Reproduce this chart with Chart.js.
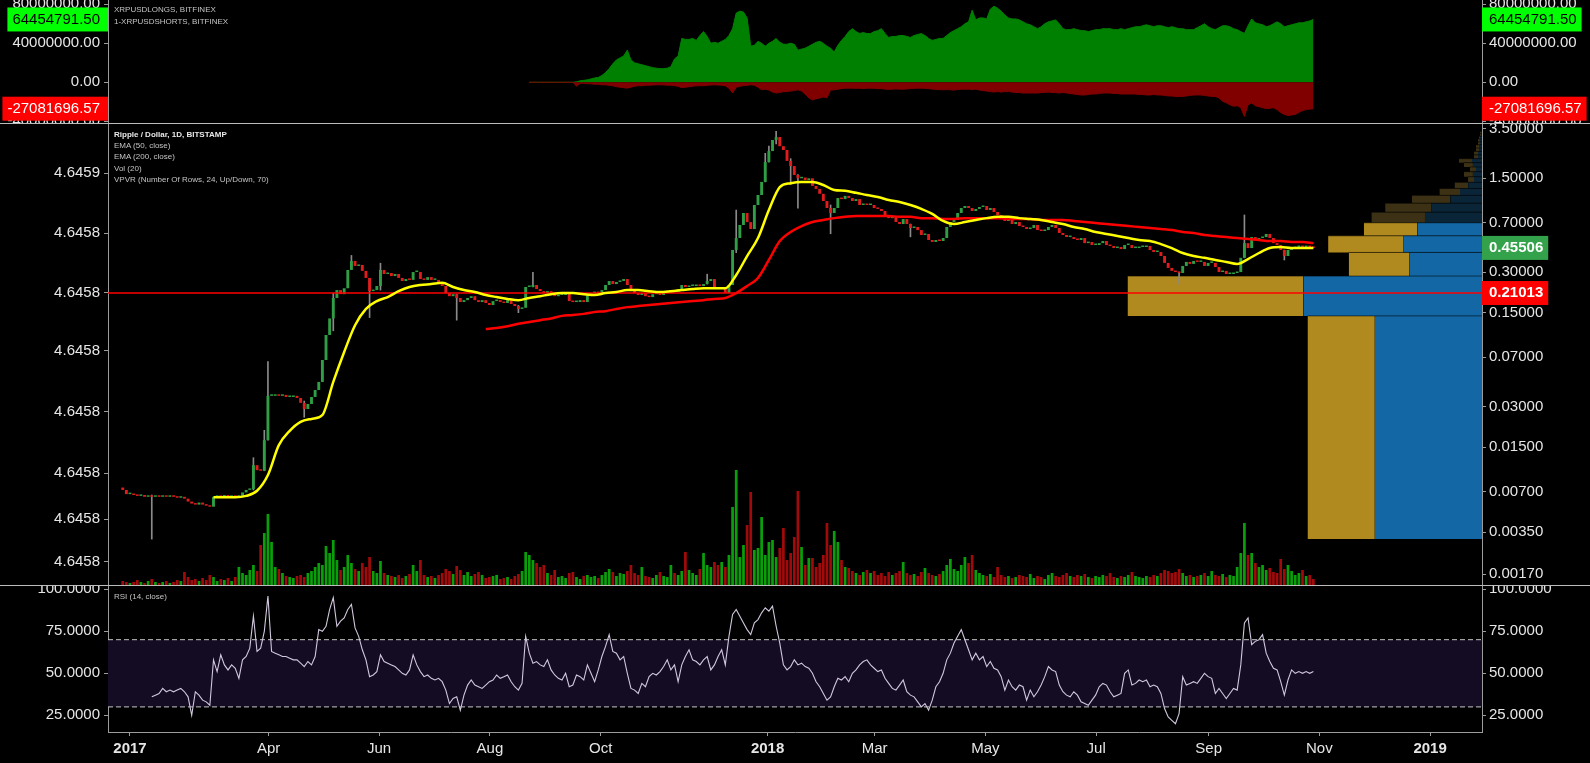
<!DOCTYPE html>
<html><head><meta charset="utf-8">
<script src="https://cdn.jsdelivr.net/npm/chart.js@4.4.1/dist/chart.umd.min.js"></script>
<style>
html,body{margin:0;padding:0;background:#000;width:1590px;height:763px;overflow:hidden;}
canvas{position:absolute;left:0;}
#cTop{top:0}
#cMain{top:124px}
#cRsi{top:586px}
.sep{position:absolute;left:0;width:1590px;height:1px;background:#bcbcbc;}
.lg{position:absolute;left:114px;font:8px "Liberation Sans",Arial,sans-serif;color:#c4c4c4;white-space:nowrap;line-height:11px;}
.lg b{color:#e8e8e8;}
</style></head><body>
<canvas id="cTop" width="1590" height="123"></canvas>
<canvas id="cMain" width="1590" height="461"></canvas>
<canvas id="cRsi" width="1590" height="177"></canvas>
<div class="sep" style="top:123px"></div>
<div class="sep" style="top:585px"></div>
<div class="lg" style="top:4px">XRPUSDLONGS, BITFINEX</div>
<div class="lg" style="top:16px">1-XRPUSDSHORTS, BITFINEX</div>
<div class="lg" style="top:129px"><b>Ripple / Dollar, 1D, BITSTAMP</b></div>
<div class="lg" style="top:140px">EMA (50, close)</div>
<div class="lg" style="top:151px">EMA (200, close)</div>
<div class="lg" style="top:163px">Vol (20)</div>
<div class="lg" style="top:174px">VPVR (Number Of Rows, 24, Up/Down, 70)</div>
<div class="lg" style="top:591px">RSI (14, close)</div>
<script>
// ---------------- DATA ----------------
// x positions are bar indexes (one bar = one trading day); 0 = first bar of 2017
const firstBar = -4, barStep = 2;
const closes = [
0.0072,0.0067,0.0067,0.0066,0.0065,0.0066,0.0064,0.0065,0.0064,0.0065,
0.0064,0.0065,0.0064,0.0065,0.0064,0.0063,0.0064,0.0062,0.0059,0.0057,
0.0056,0.0058,0.0056,0.0055,0.0054,0.0064,0.0065,0.0064,0.0066,0.0064,
0.0065,0.0064,0.0065,0.0069,0.0072,0.0073,0.0110,0.0101,0.0100,0.0169,
0.0361,0.0361,0.0367,0.0361,0.0367,0.0354,0.0354,0.0361,0.0348,0.0320,
0.0288,0.0314,0.0354,0.0399,0.0458,0.0667,0.1024,0.136,0.193,0.221,
0.206,0.228,0.312,0.364,0.334,0.340,0.307,0.272,0.217,0.221,
0.237,0.312,0.291,0.296,0.281,0.291,0.272,0.258,0.267,0.263,
0.301,0.301,0.267,0.263,0.276,0.263,0.263,0.245,0.237,0.210,
0.199,0.206,0.193,0.180,0.186,0.193,0.199,0.186,0.180,0.186,
0.177,0.171,0.183,0.186,0.180,0.177,0.186,0.174,0.168,0.160,
0.163,0.233,0.233,0.241,0.225,0.217,0.210,0.217,0.206,0.199,
0.203,0.203,0.210,0.183,0.180,0.180,0.186,0.180,0.203,0.210,
0.214,0.210,0.221,0.241,0.258,0.245,0.254,0.258,0.267,0.241,
0.221,0.210,0.203,0.210,0.199,0.196,0.206,0.206,0.203,0.210,
0.214,0.221,0.214,0.225,0.241,0.233,0.237,0.237,0.241,0.237,
0.245,0.258,0.267,0.233,0.225,0.233,0.210,0.241,0.439,0.539,
0.674,0.828,0.708,0.629,0.949,1.127,1.41,1.98,2.39,2.89,
3.04,2.60,2.435,2.02,1.85,1.587,1.50,1.52,1.457,1.50,
1.315,1.25,1.15,1.016,0.902,0.828,0.902,1.07,1.05,1.11,
1.07,1.016,1.05,0.949,0.965,0.949,0.949,0.902,0.887,0.856,
0.800,0.758,0.787,0.709,0.685,0.746,0.685,0.640,0.651,0.618,
0.568,0.578,0.521,0.504,0.521,0.512,0.539,0.651,0.709,0.734,
0.828,0.902,0.933,0.902,0.856,0.887,0.917,0.933,0.871,0.902,
0.842,0.800,0.758,0.722,0.746,0.685,0.709,0.662,0.651,0.629,
0.640,0.674,0.618,0.608,0.618,0.651,0.674,0.640,0.588,0.568,
0.548,0.548,0.530,0.521,0.539,0.494,0.504,0.478,0.478,0.494,
0.512,0.478,0.470,0.454,0.462,0.446,0.478,0.478,0.454,0.454,
0.462,0.462,0.470,0.439,0.424,0.424,0.396,0.352,0.323,0.307,
0.301,0.296,0.334,0.358,0.346,0.364,0.358,0.358,0.334,0.352,
0.352,0.328,0.301,0.307,0.291,0.291,0.296,0.301,0.384,0.494,
0.454,0.548,0.521,0.539,0.548,0.578,0.539,0.494,0.478,0.439,
0.396,0.439,0.454,0.462,0.470,0.462,0.470,0.462,0.45506];
const firstOpen = 0.0075;
// visible wicks: [candle index, low, high]
const wicks = [[8,0.0031,0.0066],[36,0.0072,0.0125],[39,0.0100,0.020],[40,0.0169,0.065],[50,0.025,0.033],
[58,0.110,0.210],[63,0.330,0.400],[68,0.138,0.270],[71,0.221,0.350],[92,0.132,0.206],[109,0.150,0.170],
[113,0.233,0.300],[161,0.245,0.290],[169,0.420,0.870],[177,1.41,2.30],[178,1.98,2.60],[180,2.70,3.35],
[184,1.35,2.10],[186,0.90,1.60],[195,0.58,0.95],[217,0.55,0.685],[291,0.245,0.301],[309,0.384,0.80],[320,0.37,0.439]];
const volumes = [
4,3,2,3,5,3,2,4,6,3,2,3,4,2,3,5,4,
13,8,5,6,4,7,5,10,
8,4,6,5,7,4,
8,18,12,10,15,20,14,40,52,71,
43,18,16,12,9,8,7,9,10,8,
12,14,18,22,20,39,32,45,25,15,
18,30,22,16,14,22,18,28,14,12,
24,12,10,9,8,10,7,9,11,20,
14,25,10,8,9,7,10,12,16,14,
11,19,15,10,13,9,11,13,10,7,
8,9,10,6,7,8,6,9,11,14,
33,30,25,22,18,20,12,10,15,8,
9,7,12,13,8,6,9,10,8,9,
7,10,13,16,13,9,12,11,14,20,
12,10,18,9,8,7,10,13,9,8,
20,12,10,14,33,15,12,10,16,32,
20,18,23,20,23,18,30,78,115,28,
40,60,93,35,37,68,30,43,45,28,
37,57,25,32,48,94,38,20,27,27,
18,22,30,62,40,54,43,25,18,17,
14,12,10,13,15,12,14,10,12,9,
13,10,12,14,23,12,10,11,9,13,
17,12,10,9,11,14,20,26,16,14,
20,28,22,30,15,12,10,9,11,8,
18,10,8,9,7,8,10,9,8,11,
7,9,8,6,10,12,9,8,10,12,
9,8,10,9,11,8,7,9,8,10,
9,12,8,7,9,8,10,13,9,8,
7,9,8,10,9,12,15,14,12,13,
16,12,9,10,8,9,10,12,9,14,
10,9,11,8,10,9,18,32,62,30,
32,22,18,20,15,17,13,12,26,16,
20,14,10,12,15,9,10,6];
const ema50FirstBar = 46, emaStep = 6;
const ema50 = [
0.00635,0.00635,0.00635,0.0065,0.0071,0.0093,0.0155,0.0198,0.0231,0.0243,
0.0260,0.0458,0.0765,0.121,0.160,0.183,0.196,0.217,0.233,0.241,
0.245,0.250,0.233,0.221,0.214,0.203,0.196,0.190,0.186,0.193,
0.199,0.206,0.210,0.210,0.206,0.203,0.210,0.214,0.221,0.221,
0.217,0.214,0.217,0.221,0.225,0.228,0.228,0.228,0.286,0.396,
0.539,0.871,1.29,1.38,1.41,1.41,1.337,1.227,1.21,1.17,
1.127,1.09,1.034,0.998,0.949,0.887,0.815,0.722,0.685,0.709,
0.734,0.758,0.775,0.775,0.758,0.746,0.734,0.709,0.685,0.651,
0.629,0.598,0.578,0.558,0.539,0.521,0.512,0.486,0.454,0.417,
0.396,0.384,0.370,0.358,0.346,0.376,0.417,0.454,0.462,0.454,
0.454,0.454];
const ema200FirstBar = 196;
const ema200 = [
0.1134,0.1154,0.119,0.124,0.128,0.132,0.136,0.142,0.144,0.147,
0.152,0.154,0.160,0.165,0.168,0.171,0.174,0.177,0.180,0.183,
0.186,0.190,0.193,0.210,0.237,0.272,0.370,0.512,0.598,0.662,
0.709,0.734,0.758,0.775,0.787,0.787,0.787,0.787,0.775,0.775,
0.758,0.758,0.746,0.746,0.758,0.758,0.758,0.758,0.746,0.746,
0.746,0.734,0.734,0.734,0.722,0.709,0.697,0.685,0.674,0.662,
0.651,0.640,0.629,0.618,0.598,0.588,0.568,0.558,0.548,0.539,
0.530,0.521,0.512,0.512,0.504,0.504,0.494];
const hLineLevel = 0.21013;
// VPVR: 24 rows (price bounds), up / down volume, value-area flag
const vpBounds = [0.0031,0.142,0.281,0.421,0.56,0.70,0.84,0.98,1.12,1.26,1.40,1.54,1.68,1.82,1.96,2.10,2.24,2.38,2.52,2.66,2.80,2.94,3.08,3.22,3.35];
const vpDown = [7.8,13.0,5.3,5.7,4.7,4.15,3.7,2.3,1.6,1.0,0.58,0.66,0.44,0.66,0.73,0.29,0.29,0.22,0.22,0.15,0.15,0.15,0.07,0.07];
const vpUp   = [4.9,12.8,4.4,5.5,3.9,3.9,3.35,2.8,1.5,1.0,0.44,0.66,0.44,0.66,0.95,0.29,0.29,0.22,0.22,0.15,0.15,0.07,0.07,0.07];
const vpInValueArea = [1,1,1,1,1,0,0,0,0,0,0,0,0,0,0,0,0,0,0,0,0,0,0,0];
// Longs / shorts (millions), from bar 220
const lsFirstBar = 220;
const longs = [
0,0,0,0,0,0,0,0,0,0,
0,0,0,0.5,1.5,2,2.5,3.5,4.5,5,
7,10,14,19,23,25,27,33,23,20,
19,18,17,16,15,14.5,14,14,14.5,16,
24,27,45,44,44,45,43,48,52,47,
40,41,40,42,44,48,55,71,73,72,
66,37,38,42,40,37,40,42,45,41,
39,39,40,39,33,34,35,37,39,41,
42,40,37,35,31,38,43,47,52,55,
52,50,51,50,50,52,53,55,50,46,
47,47,48,48,47,46,48,49,50,48,
45,43,44,45,45,48,51,53,55,57,
60,62,74,64,66,66,65,75,78,76,
73,69,66,65,65,64,62,60,59,57,
55,57,60,62,63,64,60,55,54,54,
55,54,53,53,52,53,54,54,55,55,
55,54,54,55,54,55,56,57,57,58,
59,58,57,58,58,57,56,57,56,55,
55,54,54,54,56,58,60,57,55,54,
56,58,58,57,55,54,52,50,58,65,
61,60,59,57,58,60,62,60,57,58,
59,60,61,61,62,63,64.4547915];
const shorts = [
0,0,0,0,0,0,0,0,0,0,
0,0,0,-4,-1,-1,-1.5,-1.5,-2,-2,
-2.5,-2.6,-3,-3.5,-4.5,-5,-5.5,-6,-5,-4,
-3.5,-3.5,-3,-3,-2.8,-2.6,-2.6,-2.6,-3,-3,
-3.5,-4,-5.5,-5,-4.5,-4,-3.5,-3.5,-3.5,-3,
-2.8,-2.6,-2.8,-3,-3.5,-6,-11,-5,-4,-3.5,
-3,-2.6,-3,-5,-7.7,-7,-8,-10,-11,-10.5,
-9.5,-9.5,-9,-8.5,-7.7,-9,-12,-16,-18,-17,
-16,-15,-16,-8,-7.7,-7,-6.5,-6,-6,-6,
-6.2,-6,-6.5,-6,-6,-6.2,-6.5,-6.5,-7,-7.2,
-7,-6.8,-7,-7,-6.8,-6.5,-6.2,-6,-6,-6.2,
-6.5,-7,-7.2,-7.5,-7.7,-7.5,-7.7,-8,-7.5,-7,
-7.2,-7,-7.5,-7,-8,-8.5,-9,-9.5,-10,-9.5,
-10,-9.5,-9.5,-10,-10.5,-10.5,-11,-11,-11,-11,
-11,-10.5,-10.5,-10,-10.5,-10.5,-11,-10.5,-11,-11.5,
-12,-12.5,-13,-13,-12.5,-12,-12,-11.5,-11,-11,
-11,-11.5,-11.5,-12,-12,-12,-12,-12,-12.5,-12.5,
-13,-13,-12.5,-13,-13,-13.5,-14,-14,-14.5,-14.5,
-14.5,-14,-13.5,-13,-13,-13,-13.5,-14,-14.5,-14.5,
-16,-19.5,-21,-23,-24.6,-24,-26,-35,-23,-21,
-24,-25,-26,-27,-26.5,-26,-28,-31,-33,-34,
-33.5,-33,-31,-29,-28,-27.5,-27.08169657];
// RSI from bar 12
const rsiFirstBar = 12;
const rsi = [
36,37,38,41,39,40,39,40,41,39,
36,25,39,37,34,33,31,58,51,61,
55,52,55,53,47,58,60,65,84,63,
65,75,96,63,62,61,60,60,59,58,
58,56,54,57,55,60,76,75,78,88,
95,78,81,83,88,91,77,72,64,58,
48,49,51,61,57,56,55,54,52,50,
49,52,61,55,51,48,49,47,46,47,
45,40,32,35,36,28,37,43,46,43,
42,41,43,45,46,49,47,48,49,45,
42,40,44,72,62,56,57,55,54,58,
52,49,47,46,50,42,43,49,48,46,
55,50,45,52,60,66,73,63,62,58,
60,50,41,40,38,44,42,48,50,49,
51,54,58,52,55,45,55,60,64,58,
57,55,58,60,52,55,60,64,55,72,
85,88,84,80,76,73,80,82,86,89,
87,90,78,68,55,52,54,58,55,56,
54,53,50,45,42,38,34,36,42,47,
46,48,45,50,52,55,57,58,55,53,
51,52,47,44,41,40,43,46,39,37,
36,33,30,32,28,34,42,45,50,58,
62,68,72,76,70,64,58,62,58,60,
54,57,53,52,48,40,46,42,40,43,
42,34,40,36,39,43,48,54,52,51,
43,39,37,36,39,37,33,32,31,34,
37,42,44,43,39,36,37,38,50,52,
43,44,46,45,46,42,43,42,38,29,
24,22,20,26,48,43,44,45,44,47,
50,48,47,38,41,38,35,38,41,40,
55,80,83,67,69,70,73,62,57,53,
52,45,37,46,52,50,51,50,51,50,
51];
const rsiUpper = 70, rsiLower = 30;
// axis ticks
const xTickLabels = ['2017','Apr','Jun','Aug','Oct','2018','Mar','May','Jul','Sep','Nov','2019'];
const xTickBars   = [0,76.4,137.2,198.3,259.3,351.3,410.3,471.3,532.3,594.3,655.3,716.3];
const priceTicks = [3.5,1.5,0.7,0.3,0.15,0.07,0.03,0.015,0.007,0.0035,0.0017];
const lsTicks = [80,40,0,-40];
const rsiTicks = [100,75,50,25];
const overlayTickLabels = ['4.6459','4.6458','4.6458','4.6458','4.6458','4.6458','4.6458','4.6458'];
const overlayTickPos = [0.8931,0.7629,0.6341,0.5076,0.3759,0.2423,0.1425,0.0505];

// ---------------- STYLE ----------------
const X_MIN = -12.12, X_MAX = 744.9;
const AXIS = '#9c9c9c', LABEL = '#e6e6e6', FONT = '"Liberation Sans", Arial, sans-serif';
const UP = '#2f9e44', DOWN = '#e01c1c', WICK = '#8a8a8a', VUP = '#0a9f0a', VDOWN = '#a00a0a';

function yAxis(position, type, min, max, tickList, fmt, extra) {
  return Object.assign({
    type, position, min, max, bounds: 'data', display: true,
    grid: {display: true, drawOnChartArea: false, drawTicks: true, tickLength: 4,
           color: c => (c.tick && c.tick.box) ? 'rgba(0,0,0,0)' : AXIS, lineWidth: 1},
    border: {display: true, color: AXIS, width: 1},
    afterBuildTicks(s) { s.ticks = tickList.map(t => Object.assign({}, t)); },
    afterFit(s) { s.width = 108; s.paddingTop = 0; s.paddingBottom = 0; },
    ticks: {
      autoSkip: false, padding: position === 'right' ? 3 : 4, maxRotation: 0,
      callback(v, i) { const t = tickList[i]; return (t && t.label !== undefined) ? t.label : fmt(v); },
      color: c => (c.tick && c.tick.fg) || LABEL,
      font: c => ({family: FONT, size: 15, weight: (c.tick && c.tick.bold) ? 'bold' : 'normal'}),
      showLabelBackdrop: c => !!(c.tick && c.tick.box),
      backdropColor: c => (c.tick && c.tick.box) || 'rgba(0,0,0,0)',
      backdropPadding: position === 'right' ? {left: 8, right: 5, top: 3, bottom: 3} : {left: 5, right: 8, top: 3, bottom: 3}
    }
  }, extra || {});
}
function hiddenX(extra) {
  return Object.assign({type: 'linear', min: X_MIN, max: X_MAX, display: false, offset: false, bounds: 'data', grid: {offset: false}}, extra || {});
}
const baseOpts = {
  responsive: false, maintainAspectRatio: false, animation: false, devicePixelRatio: 1, events: [],
  layout: {padding: 0},
  plugins: {legend: {display: false}, tooltip: {enabled: false}, title: {display: false}}
};

// ---------------- TOP PANE ----------------
const lsLast = longs[longs.length - 1], ssLast = shorts[shorts.length - 1];
const lsTickList = lsTicks.map(v => ({value: v})).concat([
  {value: lsLast, box: '#00ff00', fg: '#000000'}, {value: ssLast, box: '#ff0000', fg: '#ffffff'}]);
const fmtLS = v => (v * 1e6).toFixed(2);
new Chart(document.getElementById('cTop'), {
  type: 'line',
  data: {datasets: [
    {data: longs.map((v, i) => ({x: lsFirstBar + i * barStep, y: v})), xAxisID: 'x', yAxisID: 'yR',
     borderColor: '#008000', backgroundColor: '#008000', borderWidth: 1, pointRadius: 0, fill: 'origin', tension: 0, order: 2},
    {data: shorts.map((v, i) => ({x: lsFirstBar + i * barStep, y: v})), xAxisID: 'x', yAxisID: 'yR',
     borderColor: '#800000', backgroundColor: '#800000', borderWidth: 1, pointRadius: 0, fill: 'origin', tension: 0, order: 1}
  ]},
  options: Object.assign({}, baseOpts, {scales: {
    x: hiddenX(),
    yR: yAxis('right', 'linear', -41.74, 84.41, lsTickList, fmtLS),
    yL: yAxis('left', 'linear', -41.74, 84.41, lsTickList, fmtLS)
  }})
});

// ---------------- MAIN PANE ----------------
const opens = closes.map((c, i) => i === 0 ? firstOpen : closes[i - 1]);
const cBars = closes.map((c, i) => firstBar + i * barStep);
const dirUp = closes.map((c, i) => c >= opens[i]);
const mainDs = [];
mainDs.push({type: 'line', data: ema50.map((v, i) => ({x: ema50FirstBar + i * emaStep, y: v})), yAxisID: 'yp', xAxisID: 'x',
  borderColor: '#ffff00', borderWidth: 2.5, pointRadius: 0, cubicInterpolationMode: 'monotone', fill: false, order: 1});
mainDs.push({type: 'line', data: ema200.map((v, i) => ({x: ema200FirstBar + i * emaStep, y: v})), yAxisID: 'yp', xAxisID: 'x',
  borderColor: '#ff0000', borderWidth: 2.5, pointRadius: 0, cubicInterpolationMode: 'monotone', fill: false, order: 2});
mainDs.push({type: 'line', data: [{x: X_MIN, y: hLineLevel}, {x: X_MAX, y: hLineLevel}], yAxisID: 'yp', xAxisID: 'x',
  borderColor: '#ff0000', borderWidth: 1.5, pointRadius: 0, fill: false, order: 3});
mainDs.push({type: 'bar', data: closes.map((c, i) => ({x: cBars[i], y: [opens[i], c]})), yAxisID: 'yp', xAxisID: 'x',
  backgroundColor: dirUp.map(u => u ? UP : DOWN), grouped: false, barPercentage: 0.8, categoryPercentage: 1,
  minBarLength: 1.5, borderWidth: 0, order: 4});
mainDs.push({type: 'bar', data: wicks.map(w => ({x: firstBar + w[0] * barStep, y: [w[1], w[2]]})), yAxisID: 'yp', xAxisID: 'x',
  backgroundColor: WICK, grouped: false, barThickness: 1, borderWidth: 0, order: 5});
for (let r = 0; r < vpDown.length; r++) {
  const lo = vpBounds[r], hi = vpBounds[r + 1], va = vpInValueArea[r];
  mainDs.push({type: 'line', data: [{x: 0, y: hi}, {x: vpDown[r], y: hi}], xAxisID: 'xv', yAxisID: 'yp',
    fill: {value: lo}, backgroundColor: va ? '#1267a4' : '#0b2538', borderColor: 'rgba(0,0,0,0.55)', borderWidth: 1,
    pointRadius: 0, tension: 0, order: 6});
  mainDs.push({type: 'line', data: [{x: vpDown[r], y: hi}, {x: vpDown[r] + vpUp[r], y: hi}], xAxisID: 'xv', yAxisID: 'yp',
    fill: {value: lo}, backgroundColor: va ? '#b08a1e' : '#3c3114', borderColor: 'rgba(0,0,0,0.55)', borderWidth: 1,
    pointRadius: 0, tension: 0, order: 6});
}
mainDs.push({type: 'bar', data: volumes.map((v, i) => ({x: cBars[i], y: v})), yAxisID: 'yv', xAxisID: 'x',
  backgroundColor: dirUp.map(u => u ? VUP : VDOWN), grouped: false, barPercentage: 0.75, categoryPercentage: 1,
  borderWidth: 0, order: 7});
const pTickList = priceTicks.map(v => ({value: v})).concat([
  {value: closes[closes.length - 1], box: '#34a24a', fg: '#ffffff', bold: true},
  {value: hLineLevel, box: '#ff0000', fg: '#ffffff', bold: true}]);
const oTickList = overlayTickPos.map((p, i) => ({value: p, label: overlayTickLabels[i]}));
new Chart(document.getElementById('cMain'), {
  type: 'bar',
  data: {datasets: mainDs},
  options: Object.assign({}, baseOpts, {scales: {
    x: hiddenX(),
    xv: {type: 'linear', min: 0, max: 100, reverse: true, display: false, offset: false, bounds: 'data'},
    yp: yAxis('right', 'logarithmic', 0.0014124, 3.8021, pTickList, v => v.toFixed(5)),
    yL: yAxis('left', 'linear', 0, 1, oTickList, v => String(v)),
    yv: {type: 'linear', min: 0, max: 461, display: false, position: 'right', bounds: 'data'}
  }})
});

// ---------------- RSI PANE ----------------
const rTickList = rsiTicks.map(v => ({value: v}));
new Chart(document.getElementById('cRsi'), {
  type: 'line',
  data: {datasets: [
    {data: rsi.map((v, i) => ({x: rsiFirstBar + i * barStep, y: v})), xAxisID: 'x', yAxisID: 'yR',
     borderColor: '#d2c8de', borderWidth: 1.1, pointRadius: 0, fill: false, tension: 0, order: 1},
    {data: [{x: X_MIN, y: rsiUpper}, {x: X_MAX, y: rsiUpper}], xAxisID: 'x', yAxisID: 'yR',
     borderColor: '#c8c8c8', borderWidth: 1, borderDash: [5, 3], pointRadius: 0, fill: false, order: 2},
    {data: [{x: X_MIN, y: rsiLower}, {x: X_MAX, y: rsiLower}], xAxisID: 'x', yAxisID: 'yR',
     borderColor: '#c8c8c8', borderWidth: 1, borderDash: [5, 3], pointRadius: 0, fill: false, order: 2},
    {data: [{x: X_MIN, y: rsiUpper}, {x: X_MAX, y: rsiUpper}], xAxisID: 'x', yAxisID: 'yR',
     borderColor: 'rgba(0,0,0,0)', borderWidth: 1, backgroundColor: '#140c23', pointRadius: 0, fill: {value: rsiLower}, order: 4}
  ]},
  options: Object.assign({}, baseOpts, {scales: {
    x: {type: 'linear', position: 'bottom', min: X_MIN, max: X_MAX, offset: false, bounds: 'data',
      grid: {display: true, drawOnChartArea: false, drawTicks: true, tickLength: 4, color: AXIS, offset: false},
      border: {display: true, color: AXIS, width: 1},
      afterBuildTicks(s) { s.ticks = xTickBars.map((v, i) => ({value: v, year: /^\d{4}$/.test(xTickLabels[i])})); },
      afterFit(s) { s.height = 31; s.paddingLeft = 0; s.paddingRight = 0; },
      ticks: {autoSkip: false, maxRotation: 0, minRotation: 0, padding: 4, color: LABEL,
        callback(v, i) { return xTickLabels[i]; },
        font: c => ({family: FONT, size: 15, weight: (c.tick && c.tick.year) ? 'bold' : 'normal'})}
    },
    yR: yAxis('right', 'linear', 15.06, 101.96, rTickList, v => v.toFixed(4)),
    yL: yAxis('left', 'linear', 15.06, 101.96, rTickList, v => v.toFixed(4))
  }})
});
</script>
</body></html>
